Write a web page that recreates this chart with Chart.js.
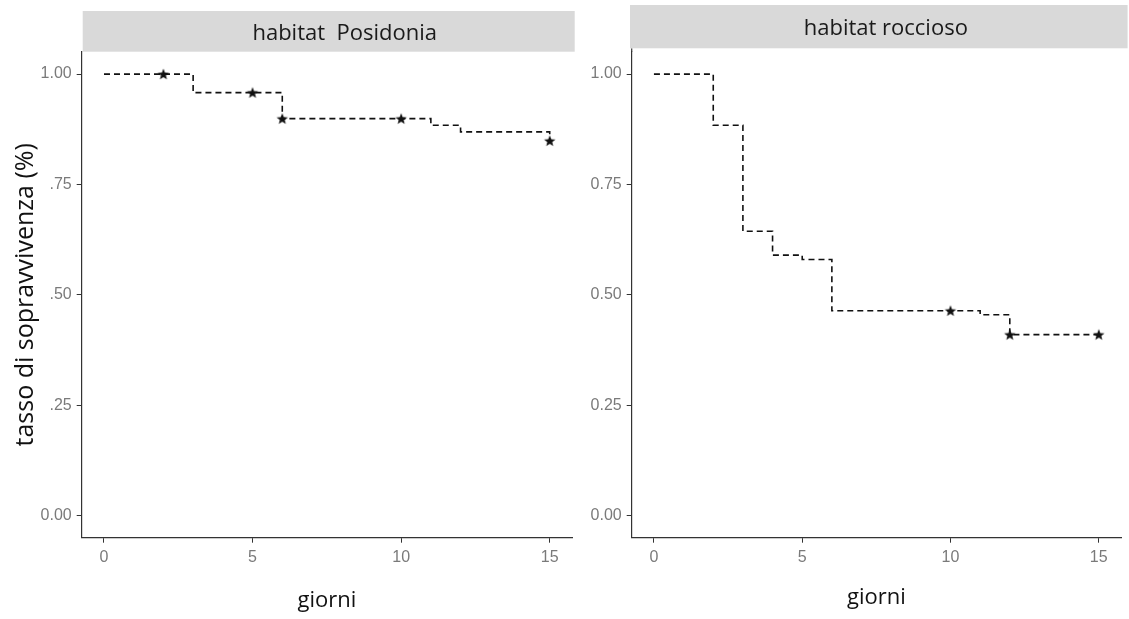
<!DOCTYPE html>
<html>
<head>
<meta charset="utf-8">
<script src="https://cdn.jsdelivr.net/npm/chart.js@4"></script>
<style>
  body { margin: 0; background: #fff; }
  canvas { position: absolute; top: 0; }
  #left { left: 0; }
  #right { left: 580px; }
</style>
</head>
<body>
<canvas id="left" width="580" height="619"></canvas>
<canvas id="right" width="549" height="619"></canvas>
<script>
// Kaplan-Meier steps
const posTimes = [0, 3, 6, 11, 12, 15];
const posSurv = [1.0, 0.958, 0.899, 0.884, 0.869, 0.849];
const posCensorTimes = [2, 5, 6, 10, 15];
const posCensorSurv = [1.0, 0.958, 0.899, 0.899, 0.849];

const rocTimes = [0, 2, 3, 4, 5, 6, 11, 12, 15];
const rocSurv = [1.0, 0.884, 0.644, 0.590, 0.580, 0.464, 0.455, 0.410, 0.410];
const rocCensorTimes = [10, 12, 15];
const rocCensorSurv = [0.464, 0.410, 0.410];

const xTicks = [0, 5, 10, 15];
const yTicks = [0, 0.25, 0.5, 0.75, 1];
const posYLabels = ['0.00', '.25', '.50', '.75', '1.00'];
const rocYLabels = ['0.00', '0.25', '0.50', '0.75', '1.00'];

const axisColor = '#333333';
const tickText = '#7a7a7a';

// little filled star used for censored marks
function makeStar() {
    const c = document.createElement('canvas');
    c.width = 14; c.height = 14;
    const g = c.getContext('2d');
    g.fillStyle = '#111';
    g.beginPath();
    for (let i = 0; i < 10; i++) {
        const r = i % 2 === 0 ? 6 : 2.6;
        const a = -Math.PI / 2 + i * Math.PI / 5;
        g.lineTo(7 + r * Math.cos(a), 7.5 + r * Math.sin(a));
    }
    g.closePath();
    g.fill();
    return c;
}
const star = makeStar();

const stripPlugin = {
    id: 'strip',
    afterDraw(chart, args, opts) {
        const {ctx, chartArea} = chart;
        const x0 = chartArea.left + opts.dl;
        const x1 = chartArea.right + opts.dr;
        ctx.save();
        // y axis line runs up to the strip
        ctx.strokeStyle = axisColor;
        ctx.lineWidth = 1.2;
        ctx.beginPath();
        ctx.moveTo(chartArea.left, opts.bottom);
        ctx.lineTo(chartArea.left, chartArea.top);
        ctx.stroke();
        ctx.fillStyle = '#d9d9d9';
        ctx.fillRect(x0, opts.top, x1 - x0, opts.bottom - opts.top);
        ctx.fillStyle = '#1a1a1a';
        ctx.font = "22px 'Open Sans'";
        ctx.textAlign = 'center';
        ctx.textBaseline = 'alphabetic';
        ctx.fillText(opts.text, (x0 + x1) / 2 + opts.dx, opts.baseline);
        ctx.restore();
    }
};

function pts(xs, ys) {
    return xs.map((x, i) => ({x: x, y: ys[i]}));
}

function makePanel(id, times, surv, cTimes, cSurv, yLabels, cfg) {
    new Chart(document.getElementById(id), {
        type: 'line',
        data: {
            datasets: [
                {
                    data: pts(times, surv),
                    stepped: true,
                    borderColor: '#111',
                    borderWidth: 1.6,
                    borderDash: [6, 4],
                    pointRadius: 0,
                    fill: false
                },
                {
                    data: pts(cTimes, cSurv),
                    showLine: false,
                    pointStyle: star,
                    pointRadius: 7
                }
            ]
        },
        options: {
            responsive: false,
            animation: false,
            events: [],
            layout: { padding: { top: 52, right: cfg.right, left: 0, bottom: 0 } },
            plugins: {
                legend: { display: false },
                tooltip: { enabled: false },
                strip: cfg.strip
            },
            scales: {
                x: {
                    type: 'linear',
                    min: -0.75,
                    max: 15.75,
                    afterBuildTicks: s => { s.ticks = xTicks.map(v => ({value: v})); },
                    afterFit: s => { s.height = 619 - 537.7; },
                    border: { display: true, color: axisColor, width: 1.2 },
                    grid: { drawOnChartArea: false, tickLength: 5, color: axisColor },
                    ticks: {
                        color: tickText,
                        padding: 5,
                        maxRotation: 0,
                        font: { family: "'Liberation Sans'", size: 16 }
                    },
                    title: {
                        display: true,
                        text: 'giorni',
                        color: '#111',
                        font: { family: "'Open Sans'", size: 22 },
                        padding: { top: 0, bottom: cfg.xTitleBottom }
                    }
                },
                y: {
                    type: 'linear',
                    min: -0.05,
                    max: 1.05,
                    afterBuildTicks: s => { s.ticks = yTicks.map(v => ({value: v})); },
                    afterFit: s => { s.width = cfg.yWidth; },
                    border: { display: true, color: axisColor, width: 1.2 },
                    grid: { drawOnChartArea: false, tickLength: 5, color: axisColor },
                    ticks: {
                        color: tickText,
                        padding: 5,
                        font: { family: "'Liberation Sans'", size: 16 },
                        callback: v => yLabels[yTicks.indexOf(v)]
                    },
                    title: {
                        display: cfg.yTitle !== '',
                        text: cfg.yTitle,
                        color: '#111',
                        font: { family: "'Open Sans'", size: 25 },
                        padding: { top: 11, bottom: 0 }
                    }
                }
            }
        },
        plugins: [stripPlugin]
    });
}

makePanel('left', posTimes, posSurv, posCensorTimes, posCensorSurv, posYLabels, {
    right: 7, yWidth: 81.7, xTitleBottom: 5,
    yTitle: 'tasso di sopravvivenza (%)',
    strip: { text: 'habitat  Posidonia', top: 11, bottom: 51.7, dl: 1, dr: 2.7, dx: 16, baseline: 40 }
});

makePanel('right', rocTimes, rocSurv, rocCensorTimes, rocCensorSurv, rocYLabels, {
    right: 6.6, yWidth: 51.7, xTitleBottom: 8,
    yTitle: '',
    strip: { text: 'habitat roccioso', top: 5, bottom: 48.3, dl: -1.7, dr: 6.6, dx: 7, baseline: 35 }
});
</script>
</body>
</html>
